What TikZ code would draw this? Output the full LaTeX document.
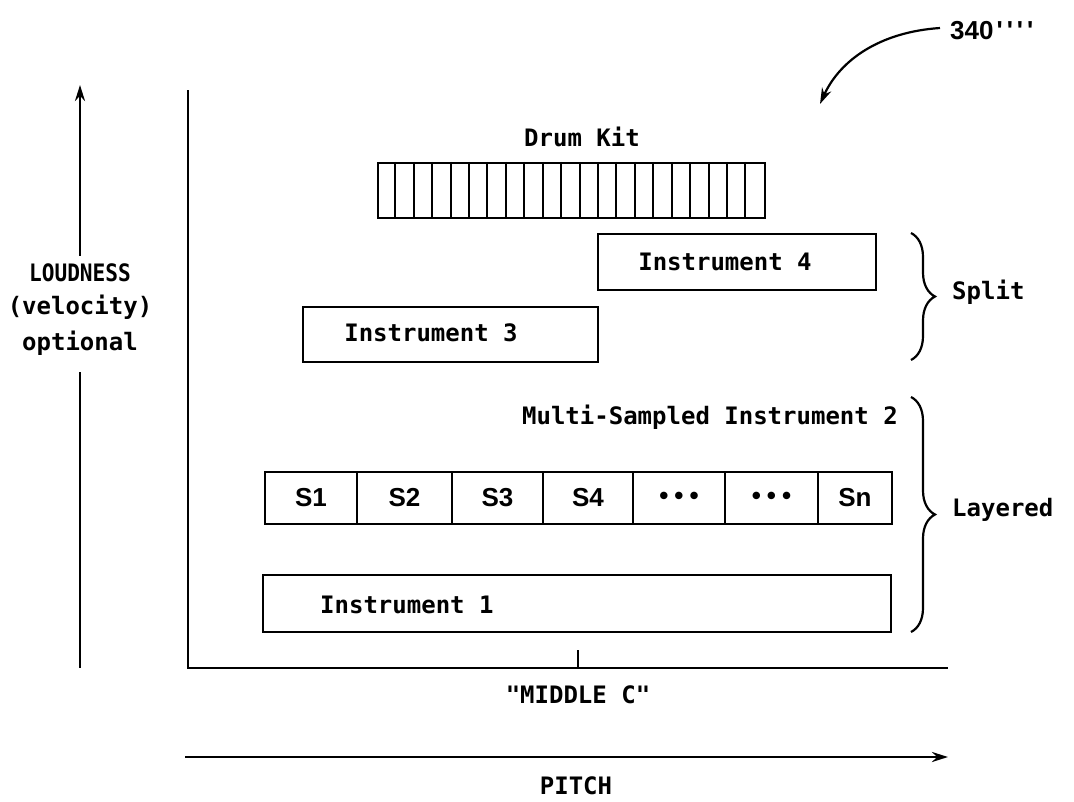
\documentclass[tikz,border=0pt]{standalone}
\usepackage{fontspec}
\usetikzlibrary{arrows.meta,decorations.pathreplacing}
\newfontfamily\monofam{DejaVu Sans Mono}
\newfontfamily\helvfam{Liberation Sans}
\newcommand\mtxt{\monofam\bfseries\fontsize{24}{28}\selectfont}
\newcommand\stxt{\helvfam\bfseries\fontsize{26}{30}\selectfont}
\tikzset{
  box/.style={draw, line width=2.4pt, inner sep=0pt},
  txt/.style={font=\mtxt, inner sep=0pt, text=black},
  cell/.style={box, minimum height=52pt, font=\stxt},
  axis/.style={line width=2.8pt},
  tip/.style={-{Stealth[length=16pt,width=10pt]}},
  bracestyle/.style={line width=2.2pt, decorate, decoration={brace, amplitude=24pt}},
}
\begin{document}
\begin{tikzpicture}[x=1pt,y=-1pt]
\useasboundingbox[fill=white] (0,0) rectangle (1074,801);

% reference label and curved arrow
\node[font=\stxt, inner sep=0pt, anchor=west] (lbl340) at (950,31) {340\hspace{3pt}\textquotesingle\hspace{4pt}\textquotesingle\hspace{4pt}\textquotesingle\hspace{4pt}\textquotesingle};
\coordinate (arrEnd) at (820,104);
\draw[line width=2.2pt, tip] ([xshift=-10pt,yshift=3pt]lbl340.west) .. controls (880,32) and (840,60) .. (arrEnd);

% loudness axis
\node[txt] (loud) at (80,273) {\scalebox{0.88}[1]{LOUDNESS}};
\node[txt] (vel) at (80,307) {(velocity)};
\node[txt] (opt) at (80,343) {optional};
\coordinate (lTop) at (80,85);
\coordinate (lBot) at (80,668);
\draw[axis, tip] ([yshift=8pt]loud.north) -- (lTop);
\draw[axis] ([yshift=-17pt]opt.south) -- (lBot);

% main axes
\coordinate (yTop) at (188,90);
\coordinate (origin) at (188,668);
\coordinate (xEnd) at (948,668);
\coordinate (midC) at (578,668);
\coordinate (midCtick) at (578,650);
\draw[axis] (yTop) -- (origin) -- (xEnd);
\draw[line width=2.2pt] (midC) -- (midCtick);
\node[txt] (midClbl) at (578,695) {"MIDDLE C"};

% pitch axis
\coordinate (pStart) at (185,757);
\coordinate (pEnd) at (948,757);
\draw[axis, tip] (pStart) -- (pEnd);
\node[txt] (pitch) at (576,786) {PITCH};

% drum kit
\node[txt] (drumlbl) at (582,137) {Drum Kit};
\node[box, minimum width=387pt, minimum height=55pt] (drum) at (571.5,190.5) {};
\foreach \i in {1,...,20}{
  \draw[line width=2pt] ([xshift=\i*18.43pt]drum.north west) -- ([xshift=\i*18.43pt]drum.south west);
}

% instrument 4 and 3
\node[box, minimum width=278pt, minimum height=56pt] (inst4) at (737,262) {};
\node[txt] (inst4lbl) at (725,262) {Instrument 4};
\node[box, minimum width=295pt, minimum height=55pt] (inst3) at (450.5,334.5) {};
\node[txt] (inst3lbl) at (431,333) {Instrument 3};

% multi-sampled instrument 2
\node[txt, anchor=east] (ms2lbl) at (898,417) {Multi-Sampled Instrument 2};
\node[cell, minimum width=92pt] (s1) at (311,498) {S1};
\node[cell, minimum width=95pt] (s2) at (404.5,498) {S2};
\node[cell, minimum width=91pt] (s3) at (497.5,498) {S3};
\node[cell, minimum width=90pt] (s4) at (588,498) {S4};
\node[cell, minimum width=92pt] (d1) at (679,498) {•\hspace{6pt}•\hspace{6pt}•};
\node[cell, minimum width=93pt] (d2) at (771.5,498) {•\hspace{6pt}•\hspace{6pt}•};
\node[cell, minimum width=74pt] (sn) at (855,498) {Sn};

% instrument 1
\node[box, minimum width=628pt, minimum height=57pt] (inst1) at (577,603.5) {};
\node[txt, anchor=west] (inst1lbl) at (320,605) {Instrument 1};

% braces
\coordinate (spTop) at (911,233);
\coordinate (spBot) at (911,360);
\coordinate (lyTop) at (911,397);
\coordinate (lyBot) at (911,632);
\draw[bracestyle] (spTop) -- (spBot);
\draw[bracestyle] (lyTop) -- (lyBot);
\node[txt, anchor=west] (split) at (952,292) {Split};
\node[txt, anchor=west] (layered) at (952,510) {Layered};
\end{tikzpicture}
\end{document}
